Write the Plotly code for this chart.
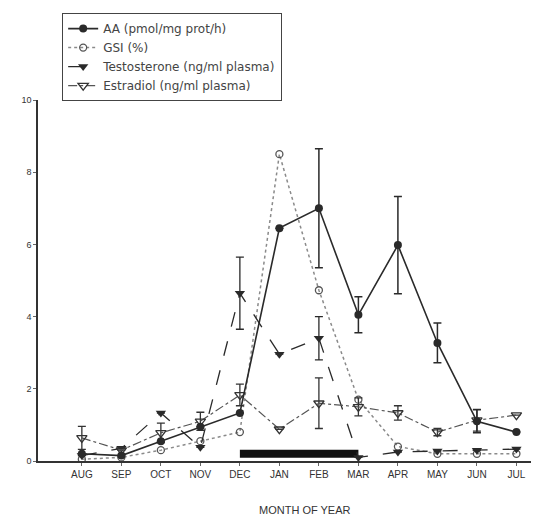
import plotly.graph_objects as go

months = ["AUG", "SEP", "OCT", "NOV", "DEC", "JAN", "FEB", "MAR", "APR", "MAY", "JUN", "JUL"]
aa = [0.2, 0.15, 0.55, 0.95, 1.33, 6.45, 7.0, 4.05, 5.98, 3.27, 1.1, 0.8]
aa_err = [0, 0, 0, 0, 0, 0, 1.65, 0.5, 1.35, 0.55, 0.32, 0]
gsi = [0.05, 0.1, 0.3, 0.55, 0.8, 8.5, 4.73, 1.7, 0.4, 0.2, 0.2, 0.2]
testo = [0.15, 0.35, 1.33, 0.38, 4.65, 2.96, 3.4, 0.1, 0.25, 0.28, 0.3, 0.33]
testo_err = [0, 0, 0, 0, 1.0, 0, 0.6, 0, 0, 0, 0, 0]
estra = [0.64, 0.3, 0.78, 1.1, 1.83, 0.88, 1.6, 1.5, 1.33, 0.8, 1.13, 1.27]
estra_err = [0.32, 0, 0.27, 0.25, 0.3, 0, 0.7, 0.25, 0.2, 0.1, 0.3, 0]
period_x = ["DEC", "MAR"]
period_y = [0.2, 0.2]
x_title = "MONTH OF YEAR"

dark = "#2a2a2a"
grey = "#8a8a8a"

fig = go.Figure()
fig.add_trace(go.Scatter(x=period_x, y=period_y, mode="lines",
                         line=dict(color="#111", width=8), showlegend=False, hoverinfo="skip"))
fig.add_trace(go.Scatter(x=months, y=gsi, name="GSI (%)", mode="lines+markers",
                         line=dict(color=grey, width=1.5, dash="dot"),
                         marker=dict(symbol="circle-open", size=7, color="#555", line=dict(width=1.3)),
                         legendrank=2))
fig.add_trace(go.Scatter(x=months, y=testo, name="Testosterone (ng/ml plasma)", mode="lines+markers",
                         line=dict(color=dark, width=1.3, dash="longdash"),
                         marker=dict(symbol="triangle-down", size=9, color=dark),
                         error_y=dict(type="data", array=testo_err, color=dark, thickness=1.3, width=4),
                         legendrank=3))
fig.add_trace(go.Scatter(x=months, y=estra, name="Estradiol (ng/ml plasma)", mode="lines+markers",
                         line=dict(color="#555", width=1.2, dash="dashdot"),
                         marker=dict(symbol="triangle-down-open", size=9, color="#333", line=dict(width=1.3)),
                         error_y=dict(type="data", array=estra_err, color="#333", thickness=1.3, width=4),
                         legendrank=4))
fig.add_trace(go.Scatter(x=months, y=aa, name="AA (pmol/mg prot/h)", mode="lines+markers",
                         line=dict(color=dark, width=1.6),
                         marker=dict(symbol="circle", size=8, color=dark),
                         error_y=dict(type="data", array=aa_err, color=dark, thickness=1.5, width=4),
                         legendrank=1))

fig.add_annotation(text=x_title, xref="paper", yref="paper", x=0.537, y=-0.135,
                   xanchor="center", yanchor="middle", showarrow=False,
                   font=dict(size=11, color="#333"))

fig.update_layout(
    width=531, height=509,
    margin=dict(l=30, r=4, t=92, b=56, autoexpand=False),
    paper_bgcolor="white", plot_bgcolor="white",
    font=dict(family="Arial, Liberation Sans, sans-serif", size=10, color="#333"),
    legend=dict(x=0.102, y=0.99, xref="container", yref="container", xanchor="left", yanchor="top",
                bordercolor="#444", borderwidth=1, bgcolor="white",
                font=dict(family="DejaVu Sans, sans-serif", size=12, color="#444"),
                itemwidth=30, tracegroupgap=0, traceorder="normal"),
    xaxis=dict(type="category", categoryorder="array", categoryarray=months,
               range=[-1.11, 11.47], showgrid=False, zeroline=False, automargin=False,
               showline=True, linecolor="#333", linewidth=1.5,
               ticks="outside", ticklen=3, tickcolor="#666",
               tickfont=dict(size=10, color="#333")),
    yaxis=dict(range=[0, 10], tickvals=[0, 2, 4, 6, 8, 10], showgrid=False, zeroline=False,
               automargin=False,
               showline=True, linecolor="#333", linewidth=1.5,
               ticks="outside", ticklen=3, tickcolor="#666",
               tickfont=dict(size=9, color="#333")),
)
fig.write_html("out.html")
